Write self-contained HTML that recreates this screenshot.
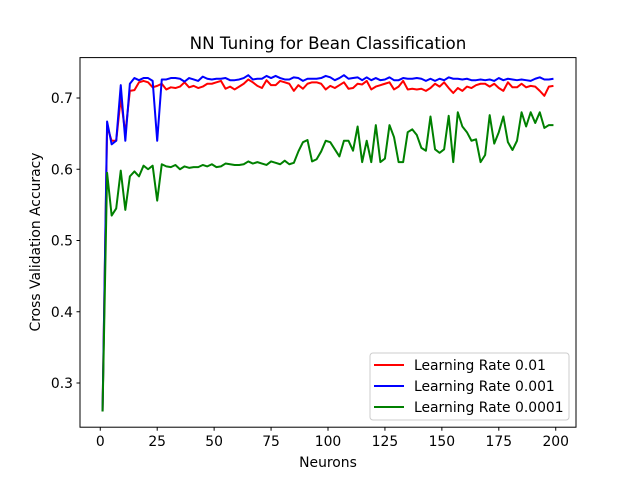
<!DOCTYPE html>
<html><head><meta charset="utf-8"><style>body{margin:0;background:#fff}svg{display:block;font-family:"DejaVu Sans","Liberation Sans",sans-serif}</style></head>
<body>
<svg id="chart" width="640" height="480" viewBox="0 0 640 480">
<rect width="640" height="480" fill="#fff"/>
<text x="328" y="49" font-size="16.7" text-anchor="middle">NN Tuning for Bean Classification</text>
<g id="grid"></g>
<g id="lines"></g>
<rect x="80" y="57.6" width="496" height="369.6" fill="none" stroke="#000" stroke-width="1"/>
<text x="328" y="467" font-size="13.9" text-anchor="middle">Neurons</text>
<text transform="translate(40,242) rotate(-90)" font-size="13.9" text-anchor="middle">Cross Validation Accuracy</text>
<g>
<rect x="370" y="353" width="199" height="67" rx="3" fill="#fff" fill-opacity="0.8" stroke="#ccc"/>
<line x1="374" y1="365" x2="404" y2="365" stroke="red" stroke-width="2"/>
<text x="414" y="370" font-size="13.9">Learning Rate 0.01</text>
<line x1="374" y1="386" x2="404" y2="386" stroke="blue" stroke-width="2"/>
<text x="414" y="391" font-size="13.9">Learning Rate 0.001</text>
<line x1="374" y1="407" x2="404" y2="407" stroke="green" stroke-width="2"/>
<text x="414" y="412" font-size="13.9">Learning Rate 0.0001</text>
</g>
</svg>
<script>
const xTicks=[0,25,50,75,100,125,150,175,200];
const yTicks=[0.3,0.4,0.5,0.6,0.7];
const yTickLabels=["0.3","0.4","0.5","0.6","0.7"];
const red=[0.26,0.66,0.64,0.64,0.7,0.65,0.71,0.711,0.722,0.724,0.722,0.715,0.717,0.72,0.712,0.715,0.714,0.716,0.722,0.715,0.717,0.714,0.716,0.72,0.72,0.722,0.724,0.713,0.716,0.712,0.716,0.72,0.726,0.722,0.717,0.714,0.725,0.718,0.718,0.724,0.722,0.72,0.71,0.718,0.713,0.72,0.722,0.722,0.72,0.712,0.717,0.714,0.718,0.722,0.713,0.714,0.72,0.719,0.724,0.712,0.716,0.718,0.72,0.722,0.712,0.716,0.724,0.712,0.713,0.712,0.713,0.71,0.714,0.72,0.716,0.722,0.714,0.707,0.714,0.71,0.716,0.714,0.718,0.72,0.72,0.716,0.72,0.714,0.71,0.722,0.715,0.715,0.72,0.715,0.717,0.716,0.71,0.703,0.716,0.717];
const blue=[0.26,0.667,0.635,0.64,0.718,0.64,0.72,0.728,0.725,0.728,0.728,0.724,0.64,0.726,0.726,0.728,0.728,0.727,0.723,0.728,0.726,0.724,0.73,0.727,0.726,0.727,0.727,0.728,0.725,0.725,0.726,0.728,0.732,0.726,0.727,0.727,0.731,0.728,0.731,0.728,0.726,0.726,0.729,0.728,0.724,0.727,0.727,0.727,0.728,0.731,0.729,0.725,0.728,0.732,0.727,0.728,0.729,0.725,0.729,0.725,0.728,0.725,0.726,0.729,0.725,0.725,0.728,0.727,0.727,0.728,0.727,0.724,0.727,0.724,0.727,0.725,0.729,0.727,0.727,0.726,0.727,0.725,0.725,0.726,0.725,0.726,0.724,0.728,0.725,0.727,0.726,0.725,0.726,0.725,0.724,0.727,0.729,0.726,0.726,0.727];
const green=[0.26,0.595,0.535,0.545,0.598,0.543,0.59,0.597,0.59,0.605,0.6,0.605,0.556,0.607,0.604,0.603,0.606,0.6,0.604,0.602,0.603,0.603,0.606,0.604,0.607,0.603,0.604,0.608,0.607,0.606,0.606,0.607,0.611,0.608,0.61,0.608,0.606,0.611,0.609,0.607,0.612,0.607,0.609,0.625,0.638,0.641,0.611,0.614,0.625,0.64,0.638,0.628,0.618,0.64,0.64,0.626,0.66,0.61,0.64,0.61,0.662,0.61,0.615,0.662,0.645,0.61,0.61,0.652,0.656,0.648,0.63,0.626,0.674,0.628,0.623,0.628,0.675,0.61,0.68,0.66,0.652,0.64,0.642,0.61,0.62,0.676,0.636,0.652,0.674,0.638,0.627,0.64,0.68,0.66,0.68,0.665,0.68,0.658,0.662,0.662];
const NS="http://www.w3.org/2000/svg";
function sx(v){return 80+(v+8.9)/217.8*496;}
function sy(v){return 383-(v-0.3)*712.5;}
const grid=document.getElementById('grid');
function mk(tag,attrs,parent){const e=document.createElementNS(NS,tag);for(const k in attrs)e.setAttribute(k,attrs[k]);parent.appendChild(e);return e;}
xTicks.forEach(t=>{
  const l=mk('line',{x1:sx(t),x2:sx(t),y1:427.2,y2:430.7,stroke:'#000'},grid);
  
  
  const tx=mk('text',{x:sx(t),y:446,'font-size':'13.9','text-anchor':'middle'},grid);
  
  
  tx.textContent=t;
});
yTicks.forEach((t,i)=>{
  const l=mk('line',{x1:76.5,x2:80,y1:sy(t),y2:sy(t),stroke:'#000'},grid);
  
  
  const tx=mk('text',{x:73,y:sy(t)+5,'font-size':'13.9','text-anchor':'end'},grid);
  
  
  tx.textContent=yTickLabels[i];
});
const lines=document.getElementById('lines');
[[red,'red','line-lr-0.01'],[blue,'blue','line-lr-0.001'],[green,'green','line-lr-0.0001']].forEach(([d,c,n])=>{
  const pts=d.map((v,i)=>sx(1+2*i).toFixed(2)+','+sy(v).toFixed(2)).join(' ');
  const p=mk('polyline',{points:pts,fill:'none',stroke:c,'stroke-width':'2','stroke-linejoin':'round'},lines);
  
  
});
</script>
</body></html>
